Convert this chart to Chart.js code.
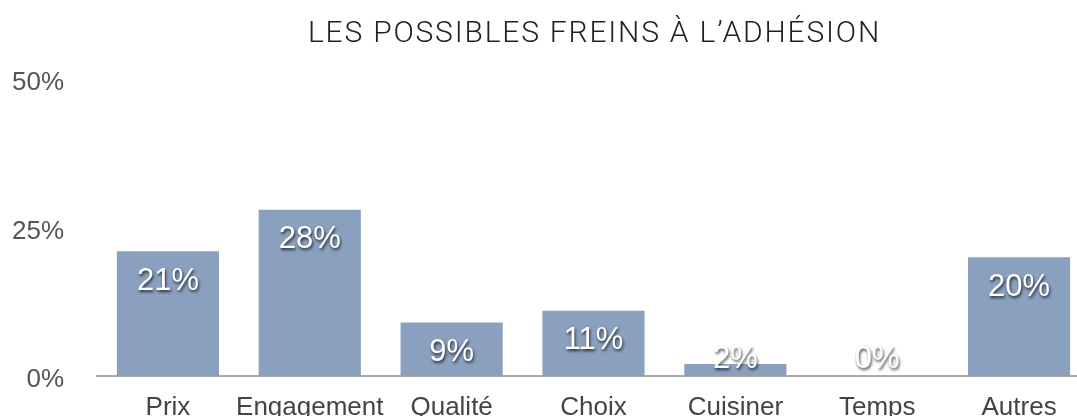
<!DOCTYPE html>
<html>
<head>
<meta charset="utf-8">
<script src="https://cdn.jsdelivr.net/npm/chart.js@4/dist/chart.umd.min.js"></script>
<style>
  html, body { margin: 0; padding: 0; background: #fff; overflow: hidden; }
  #wrap { width: 1077px; height: 416px; overflow: hidden; position: relative; }
  #c { position: absolute; left: 0; top: 0; }
</style>
</head>
<body>
<div id="wrap"><canvas id="c" width="1100" height="416"></canvas></div>
<script>
const categories = ['Prix', 'Engagement', 'Qualité', 'Choix', 'Cuisiner', 'Temps', 'Autres'];
const values = [21, 28, 9, 11, 2, 0, 20];
const yTicks = [0, 25, 50];
const chartTitle = 'LES POSSIBLES FREINS À L\u2019ADHÉSION';

const BAR_COLOR = '#8aa0bf';
const SANS = '"Liberation Sans", Arial, Helvetica, sans-serif';

// Title centred over the plot area
const titlePlugin = {
  id: 'plotTitle',
  afterDraw(chart) {
    const { ctx, chartArea } = chart;
    ctx.save();
    ctx.font = '300 30px Roboto, ' + SANS;
    ctx.letterSpacing = '1.8px';
    ctx.fillStyle = '#222';
    ctx.textAlign = 'center';
    ctx.textBaseline = 'middle';
    ctx.fillText(chartTitle, (chartArea.left + chartArea.right) / 2 + 1, 34);
    ctx.restore();
  }
};

// White value labels with a soft dark shadow, placed just under each bar top
const valueLabels = {
  id: 'valueLabels',
  afterDatasetsDraw(chart) {
    const { ctx } = chart;
    const meta = chart.getDatasetMeta(0);
    const yScale = chart.scales.y;
    ctx.save();
    ctx.font = '31px ' + SANS;
    ctx.textAlign = 'center';
    ctx.textBaseline = 'middle';
    ctx.fillStyle = '#fff';
    ctx.shadowColor = 'rgba(0,0,0,0.75)';
    ctx.shadowBlur = 3;
    ctx.shadowOffsetX = 1;
    ctx.shadowOffsetY = 2;
    const floorY = yScale.getPixelForValue(0) - 17;
    meta.data.forEach((bar, i) => {
      const v = values[i];
      const y = Math.min(yScale.getPixelForValue(v) + 30, floorY);
      ctx.fillText(v + '%', bar.x, y);
    });
    ctx.restore();
  }
};

new Chart(document.getElementById('c'), {
  type: 'bar',
  data: {
    labels: categories,
    datasets: [{
      data: values,
      backgroundColor: BAR_COLOR,
      borderWidth: 0,
      barPercentage: 0.72,
      categoryPercentage: 1.0
    }]
  },
  options: {
    responsive: false,
    animation: false,
    events: [],
    layout: { padding: { top: 79, right: 10, left: 0, bottom: 0 } },
    plugins: {
      legend: { display: false },
      title: { display: false },
      tooltip: { enabled: false }
    },
    scales: {
      x: {
        grid: { display: false, drawTicks: false },
        border: { display: true, color: '#aaa', width: 2 },
        ticks: {
          color: '#444',
          font: { family: SANS, size: 26 },
          padding: 16,
          maxRotation: 0,
          autoSkip: false
        },
        afterFit(scale) { scale.height = 40; }
      },
      y: {
        min: 0,
        max: 50,
        grid: { display: false, drawTicks: false },
        border: { display: false },
        afterBuildTicks(scale) { scale.ticks = yTicks.map(v => ({ value: v })); },
        ticks: {
          color: '#555',
          font: { family: SANS, size: 26 },
          padding: 33,
          labelOffset: 4,
          callback: v => v + '%'
        },
        afterFit(scale) {
          scale.width = 97;
          // the labels sit beside the axis, so no extra room above/below is needed
          scale.paddingTop = 0;
          scale.paddingBottom = 0;
        }
      }
    }
  },
  plugins: [titlePlugin, valueLabels]
});
</script>
</body>
</html>
